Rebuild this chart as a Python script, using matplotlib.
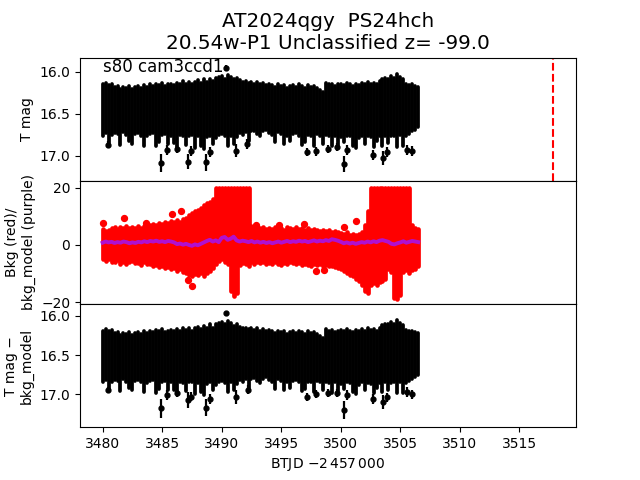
import numpy as np
import matplotlib
matplotlib.use("Agg")
import matplotlib.pyplot as plt

# sample times (BTJD - 2457000)
t = [3480.0, 3480.25, 3480.5, 3480.75,
     3481.0, 3481.25, 3481.5, 3481.75, 3482.0, 3482.25, 3482.5, 3482.75,
     3483.0, 3483.25, 3483.5, 3483.75,
     3484.0, 3484.25, 3484.5, 3484.75, 3485.0, 3485.25, 3485.5, 3485.75,
     3486.0, 3486.25, 3486.5, 3486.75, 3487.0, 3487.25, 3487.5, 3487.75,
     3488.0, 3488.25, 3488.5, 3488.75, 3489.0, 3489.25, 3489.5, 3489.75,
     3490.0, 3490.25, 3490.5, 3490.75, 3491.0, 3491.25, 3491.5, 3491.75,
     3492.0, 3492.25, 3492.5, 3492.75, 3493.0, 3493.25, 3493.5, 3493.75,
     3494.0, 3494.25, 3494.5, 3494.75, 3495.0, 3495.25, 3495.5, 3495.75,
     3496.0, 3496.25, 3496.5, 3496.75, 3497.0, 3497.25, 3497.5, 3497.75,
     3498.0, 3498.25, 3498.5, 3498.75, 3499.0, 3499.25, 3499.5, 3499.75,
     3500.0, 3500.25, 3500.5, 3500.75, 3501.0, 3501.25, 3501.5, 3501.75,
     3502.0, 3502.25, 3502.5, 3502.75, 3503.0, 3503.25, 3503.5, 3503.75,
     3504.0, 3504.25, 3504.5, 3504.75, 3505.0, 3505.25, 3505.5, 3505.75,
     3506.0, 3506.25, 3506.5]

# T mag: bright and faint edge of the point cloud in each bin
mag_hi = [16.15, 16.13, 16.16, 16.14,
          16.18, 16.17, 16.20, 16.18, 16.19, 16.17, 16.20, 16.18,
          16.17, 16.19, 16.16, 16.18,
          16.15, 16.17, 16.14, 16.16, 16.13, 16.17, 16.15, 16.14,
          16.16, 16.13, 16.15, 16.11, 16.14, 16.12, 16.15, 16.12,
          16.10, 16.13, 16.09, 16.12, 16.08, 16.11, 16.07, 16.06,
          16.05, 16.08, 16.04, 16.06, 16.09, 16.07, 16.10, 16.12,
          16.11, 16.13, 16.12, 16.14, 16.12, 16.15, 16.13, 16.16,
          16.14, 16.16, 16.18, 16.15, 16.17, 16.16, 16.19, 16.17,
          16.16, 16.18, 16.15, 16.17, 16.19, 16.16, 16.18, 16.17,
          16.19, 16.22, 16.24, 16.13, 16.15, 16.14, 16.17, 16.15,
          16.14, 16.16, 16.13, 16.15, 16.17, 16.14, 16.16, 16.13,
          16.15, 16.12, 16.14, 16.13, 16.15, 16.11, 16.09, 16.07,
          16.08, 16.05, 16.07, 16.03, 16.06, 16.09, 16.14, 16.16,
          16.15, 16.17, 16.18]
mag_lo = [16.76, 16.73, 16.85, 16.75,
          16.73, 16.74, 16.87, 16.72, 16.75, 16.83, 16.86, 16.74,
          16.73, 16.76, 16.88, 16.77,
          16.74, 16.73, 16.89, 16.84, 16.75, 16.74, 16.86, 16.76,
          16.85, 16.90, 16.75, 16.77, 16.87, 16.76, 16.75, 16.91,
          16.77, 16.88, 16.92, 16.78, 16.76, 16.86, 16.79, 16.75,
          16.74, 16.77, 16.88, 16.76, 16.86, 16.78, 16.73, 16.75,
          16.72, 16.83, 16.71, 16.70, 16.74, 16.77, 16.71, 16.69,
          16.73, 16.75, 16.84, 16.72, 16.74, 16.86, 16.76, 16.83,
          16.74, 16.73, 16.76, 16.87, 16.84, 16.75, 16.76, 16.88,
          16.74, 16.76, 16.86, 16.75, 16.77, 16.89, 16.76, 16.87,
          16.78, 16.84, 16.76, 16.77, 16.88, 16.91, 16.79, 16.76,
          16.86, 16.77, 16.78, 16.90, 16.83, 16.77, 16.88, 16.76,
          16.85, 16.77, 16.76, 16.90, 16.75, 16.89, 16.77, 16.74,
          16.71, 16.69, 16.66]

# isolated faint/bright points with their error bars
out_t = [3480.42, 3484.92, 3485.39, 3486.23, 3487.21, 3487.44, 3488.70, 3488.98,
         3490.39, 3491.17, 3492.15, 3497.17, 3497.90, 3498.94, 3499.65, 3500.29,
         3500.49, 3502.68, 3503.52, 3503.86, 3505.54, 3505.96]
out_mag = [16.87, 17.09, 16.93, 16.92, 17.07, 16.95, 17.08, 16.96,
           15.95, 16.94, 16.86, 16.96, 16.95, 16.92, 16.90, 17.10,
           16.93, 16.99, 17.03, 16.96, 16.93, 16.95]
out_err = [0.04, 0.11, 0.06, 0.05, 0.09, 0.06, 0.10, 0.06,
           0.03, 0.08, 0.06, 0.05, 0.05, 0.05, 0.05, 0.10,
           0.06, 0.06, 0.08, 0.06, 0.06, 0.06]

# background flux (red) envelope and background model (purple)
bkg_hi = [5.5, 4.8, 5.2, 5.8,
          6.2, 5.6, 6.4, 5.9, 6.6, 6.0, 6.3, 5.8,
          6.5, 6.1, 6.8, 6.4,
          6.9, 7.4, 7.0, 7.8, 7.3, 8.0, 7.6, 8.3,
          8.0, 8.6, 8.2, 9.0, 9.4, 10.5, 11.2, 11.8,
          12.4, 13.0, 14.0, 14.6, 15.2, 16.0, 20.0, 20.0,
          20.0, 20.0, 20.0, 20.0, 20.0, 20.0, 20.0, 20.0,
          20.0, 20.0, 6.5, 6.0, 6.6, 5.8, 6.2, 5.6,
          6.0, 5.5, 6.3, 5.8, 6.1, 5.4, 6.4, 5.9,
          5.7, 6.2, 5.5, 6.0, 5.4, 5.8, 5.2, 5.6,
          5.3, 5.0, 5.4, 4.8, 5.1, 4.6, 4.9, 4.4,
          4.2, 3.8, 4.4, 3.6, 4.0, 3.5, 3.9, 4.5,
          7.0, 12.0, 20.0, 20.0, 20.0, 20.0, 20.0, 20.0,
          20.0, 20.0, 20.0, 20.0, 20.0, 20.0, 20.0, 20.0,
          7.0, 6.0, 5.5]
bkg_lo = [-4.8, -5.5, -5.0, -5.8,
          -6.0, -5.4, -6.5, -5.8, -6.8, -6.1, -5.6, -6.4,
          -6.2, -6.9, -6.0, -6.6,
          -6.8, -7.4, -7.0, -7.8, -7.3, -8.1, -7.6, -8.4,
          -8.2, -9.0, -8.6, -9.4, -9.9, -10.4, -10.8, -10.2,
          -10.6, -10.0, -10.8, -9.8, -9.0, -8.0, -6.5, -5.5,
          -5.0, -5.8, -6.5, -16.0, -18.0, -17.0, -7.0, -6.2,
          -6.8, -7.2, -6.0, -6.6, -5.8, -6.4, -6.0, -6.8,
          -6.2, -6.8, -6.0, -6.5, -6.9, -6.2, -6.6, -6.0,
          -6.4, -6.8, -6.2, -7.0, -6.5, -6.9, -7.2, -6.6,
          -7.0, -6.6, -7.3, -7.0, -7.5, -7.2, -7.8, -8.2,
          -8.6, -9.2, -9.8, -10.4, -11.0, -11.8, -12.6, -14.0,
          -16.0, -16.8, -14.0, -13.5, -14.2, -13.0, -12.8, -12.0,
          -8.5, -9.5, -18.5, -19.0, -17.5, -9.5, -8.8, -10.0,
          -8.8, -8.4, -7.5]
bkg_out_t = [3480.0, 3481.8, 3483.65, 3485.8, 3486.6, 3487.5, 3487.2,
             3492.9, 3494.8, 3496.9, 3500.3, 3501.3, 3497.9, 3498.6]
bkg_out = [7.7, 9.5, 7.7, 10.7, 11.9, -14.5, -12.3,
           7.0, 6.9, 7.5, 6.3, 8.5, -9.3, -8.8]
bkg_model = [0.8, 1.2, 0.9, 1.1,
             0.7, 1.0, 0.8, 1.2, 1.0, 0.6, 0.9, 0.7,
             1.1, 0.9, 1.3, 1.0,
             1.4, 1.2, 1.5, 1.1, 1.3, 1.0, 1.4, 1.2,
             0.9, 0.3, 0.5, 0.1, 0.4, 0.0, -0.3, 0.2,
             -0.1, 0.4, 0.9, 1.4, 1.8, 1.2, 1.6, 1.0,
             2.5, 2.8, 1.8, 2.2, 2.9, 1.6, 1.2, 1.5,
             1.3, 1.0, 1.4, 0.9, 1.2, 0.8, 1.1, 0.7,
             1.0, 0.6, 0.9, 1.2, 0.8, 1.1, 1.4, 1.0,
             1.3, 1.1, 1.5, 1.2, 1.4, 1.0, 1.3, 1.6,
             1.2, 1.5, 1.3, 1.7, 1.4, 2.0, 1.8, 1.5,
             1.1, 0.6, 0.9, 0.5, 0.8, 0.4, 0.7, 1.0,
             0.8, 1.2, 0.9, 1.3, 1.0, 1.5, 1.7, 1.4,
             1.1, 0.4, 0.2, 0.6, 0.9, 1.3, 0.8, 1.1,
             1.4, 1.2, 1.0]

# T mag - bkg_model
cor_hi = [16.19, 16.17, 16.20, 16.18,
          16.22, 16.21, 16.24, 16.22, 16.23, 16.21, 16.24, 16.22,
          16.21, 16.23, 16.20, 16.22,
          16.19, 16.21, 16.18, 16.20, 16.17, 16.21, 16.19, 16.18,
          16.20, 16.17, 16.19, 16.15, 16.18, 16.16, 16.19, 16.16,
          16.14, 16.17, 16.13, 16.16, 16.11, 16.15, 16.10, 16.09,
          16.08, 16.11, 16.07, 16.09, 16.13, 16.10, 16.14, 16.16,
          16.15, 16.17, 16.16, 16.18, 16.16, 16.19, 16.17, 16.20,
          16.18, 16.20, 16.22, 16.19, 16.21, 16.20, 16.23, 16.21,
          16.20, 16.22, 16.19, 16.21, 16.23, 16.20, 16.22, 16.21,
          16.23, 16.26, 16.28, 16.17, 16.19, 16.18, 16.21, 16.19,
          16.18, 16.20, 16.17, 16.19, 16.21, 16.18, 16.20, 16.17,
          16.19, 16.16, 16.18, 16.17, 16.19, 16.15, 16.12, 16.10,
          16.11, 16.08, 16.10, 16.06, 16.09, 16.12, 16.18, 16.20,
          16.19, 16.21, 16.22]
cor_lo = [16.85, 16.82, 16.94, 16.84,
          16.82, 16.83, 16.96, 16.81, 16.84, 16.92, 16.95, 16.83,
          16.82, 16.85, 16.97, 16.86,
          16.83, 16.82, 16.98, 16.93, 16.84, 16.83, 16.95, 16.85,
          16.94, 16.99, 16.84, 16.86, 16.96, 16.85, 16.84, 17.00,
          16.86, 16.97, 17.01, 16.87, 16.85, 16.95, 16.88, 16.84,
          16.83, 16.86, 16.97, 16.85, 16.95, 16.87, 16.82, 16.84,
          16.81, 16.92, 16.80, 16.79, 16.83, 16.86, 16.80, 16.78,
          16.82, 16.84, 16.93, 16.81, 16.83, 16.95, 16.85, 16.92,
          16.83, 16.82, 16.85, 16.96, 16.93, 16.84, 16.85, 16.97,
          16.83, 16.85, 16.95, 16.84, 16.86, 16.98, 16.85, 16.96,
          16.87, 16.93, 16.85, 16.86, 16.97, 17.00, 16.88, 16.85,
          16.95, 16.86, 16.87, 16.99, 16.92, 16.86, 16.97, 16.85,
          16.94, 16.86, 16.85, 16.99, 16.84, 16.98, 16.86, 16.83,
          16.80, 16.78, 16.75]
cor_out_t = [3480.42, 3484.92, 3485.39, 3486.23, 3487.21, 3487.44, 3488.70, 3488.98,
             3490.39, 3491.17, 3492.20, 3497.17, 3497.90, 3498.94, 3499.65, 3500.29,
             3500.49, 3502.68, 3503.52, 3503.86, 3505.54, 3505.96]
cor_out = [16.95, 17.18, 17.01, 16.99, 17.07, 17.03, 17.17, 17.06,
           15.97, 17.03, 16.94, 17.03, 17.00, 16.98, 16.98, 17.20,
           17.01, 17.06, 17.10, 17.04, 16.97, 17.00]
cor_err = [0.04, 0.12, 0.06, 0.05, 0.10, 0.06, 0.11, 0.06,
           0.03, 0.09, 0.06, 0.05, 0.05, 0.05, 0.05, 0.11,
           0.06, 0.06, 0.09, 0.06, 0.06, 0.06]

t_disc = 3517.85

fig, ax = plt.subplots(3, 1, sharex=True, figsize=(6.4, 4.8), dpi=100)
plt.subplots_adjust(hspace=0)

# top: T mag
ax[0].vlines(t, mag_hi, mag_lo, color='k', lw=2.7, capstyle='round')
ax[0].errorbar(out_t, out_mag, yerr=out_err, fmt='o', color='k', ms=3.5, elinewidth=1.6)
ax[0].axvline(t_disc, color='r', ls='--', lw=1.5)
ax[0].text(3480, 16.0, 's80 cam3ccd1', fontsize=12)
ax[0].set_ylim(17.30, 15.83)
ax[0].set_yticks([16.0, 16.5, 17.0])
ax[0].set_ylabel('T mag')
ax[0].set_title('AT2024qgy  PS24hch\n20.54w-P1 Unclassified z= -99.0', fontsize='x-large')

# middle: background
ax[1].vlines(t, bkg_lo, bkg_hi, color='r', lw=3.4, capstyle='round')
ax[1].scatter(bkg_out_t, bkg_out, color='r', s=18)
ax[1].plot(t, bkg_model, color='#b010d0', lw=2.8)
ax[1].set_ylim(-20.7, 22.5)
ax[1].set_yticks([-20, 0, 20])
ax[1].set_ylabel('Bkg (red)/\nbkg_model (purple)')

# bottom: corrected mag
ax[2].vlines(t, cor_hi, cor_lo, color='k', lw=2.7, capstyle='round')
ax[2].errorbar(cor_out_t, cor_out, yerr=cor_err, fmt='o', color='k', ms=3.5, elinewidth=1.6)
ax[2].set_ylim(17.42, 15.85)
ax[2].set_yticks([16.0, 16.5, 17.0])
ax[2].set_ylabel('T mag \u2212\nbkg_model')

ax[2].set_xlim(3478.1, 3519.75)
ax[2].set_xticks([3480, 3485, 3490, 3495, 3500, 3505, 3510, 3515])
ax[2].set_xlabel(r'BTJD $-2\,457\,000$')

plt.savefig('out.png')
